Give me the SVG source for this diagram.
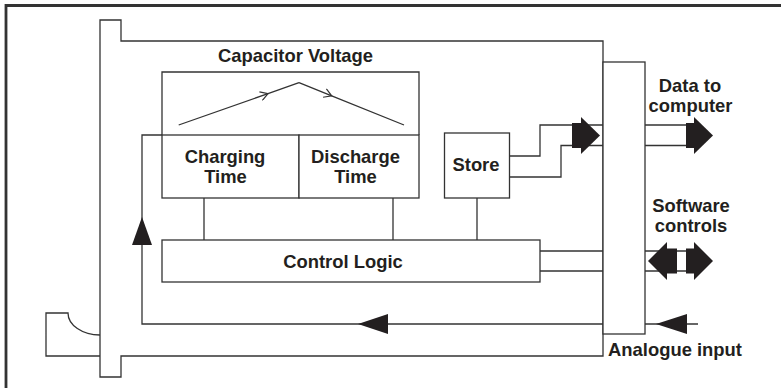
<svg xmlns="http://www.w3.org/2000/svg" width="781" height="388" viewBox="0 0 781 388">
<defs>
<style>
.ln{fill:none;stroke:#333;stroke-width:1.3}
.bx{fill:#fff;stroke:#333;stroke-width:1.3}
.blk{fill:#231f20;stroke:none}
.t{font-family:"Liberation Sans",Arial,sans-serif;font-weight:bold;font-size:18.4px;fill:#231f20;text-anchor:middle}
</style>
<marker id="chev" viewBox="-9 -5 10 10" markerWidth="10" markerHeight="10" refX="0" refY="0" orient="auto" markerUnits="userSpaceOnUse">
<path d="M-7.5,-4.5 L0,0 L-7.5,4.5" fill="none" stroke="#333" stroke-width="1.2"/>
</marker>
</defs>
<rect width="781" height="388" fill="#fff"/>
<path d="M6,388 V5.5 H781" fill="none" stroke="#333" stroke-width="2.8"/>

<g id="chassis">
<path class="ln" d="M100,20 H121 V41 H603 V356 H121 V377 H100 Z"/>
<path class="ln" d="M100,335 A32,22 0 0 1 68,313 H46 V356 H100"/>
</g>

<g id="bus">
<rect class="bx" x="603" y="62" width="42" height="272"/>
</g>

<g id="capacitor">
<path class="ln" d="M162,135 V72 H419 V135"/>
<text class="t" x="295.5" y="62">Capacitor Voltage</text>
<path class="ln" d="M178.7,125 L268,93.6 L299,82.7" marker-mid="url(#chev)"/>
<path class="ln" d="M299,82.7 L331.7,95.9 L404,125" marker-mid="url(#chev)"/>
</g>

<g id="charging">
<rect class="bx" x="162" y="135" width="137" height="63"/>
<text class="t" x="225" y="163">Charging</text>
<text class="t" x="225.5" y="183">Time</text>
</g>

<g id="discharge">
<rect class="bx" x="299" y="135" width="120" height="63"/>
<text class="t" x="355.5" y="163">Discharge</text>
<text class="t" x="355.5" y="183">Time</text>
</g>

<g id="store">
<rect class="bx" x="444.5" y="133" width="65" height="65"/>
<text class="t" x="476" y="171">Store</text>
</g>

<g id="control">
<rect class="bx" x="162" y="240" width="378" height="42"/>
<text class="t" x="343" y="268">Control Logic</text>
</g>

<g id="labels">
<text class="t" x="690" y="91.5">Data to</text>
<text class="t" x="690.5" y="112">computer</text>
<text class="t" x="691" y="211.5">Software</text>
<text class="t" x="691" y="231.5">controls</text>
<text class="t" x="675" y="356">Analogue input</text>
</g>

<g id="connectors">
<path class="ln" d="M204,198 V240 M393,198 V240 M477,198 V240"/>
<path class="ln" d="M162,135 H142 V324 H603"/>
<polygon class="blk" points="142,217 132,245 152,245"/>
<polygon class="blk" points="358,324 388,314 388,334"/>
<path class="ln" d="M645,324 H698"/>
<polygon class="blk" points="656,324 687,314 687,334"/>
<path class="ln" d="M509.5,156 H540 V125 H603 M509.5,177 H561 V145.5 H603"/>
<rect class="blk" x="572" y="123" width="10" height="25"/>
<polygon class="blk" points="581,117 600,135.5 581,154"/>
<path class="ln" d="M645,125 H690 M645,145.5 H690"/>
<rect class="blk" x="686" y="123" width="9" height="25"/>
<polygon class="blk" points="694,117 713,135.5 694,154"/>
<path class="ln" d="M540,251 H603 M540,271 H603"/>
<path class="ln" d="M645,251 H690 M645,271 H690"/>
<polygon class="blk" points="648,261 667,242 667,280"/>
<rect class="blk" x="666" y="248.5" width="11" height="25"/>
<rect class="blk" x="686" y="248.5" width="9" height="25"/>
<polygon class="blk" points="694,242 713,261 694,280"/>
</g>
</svg>
